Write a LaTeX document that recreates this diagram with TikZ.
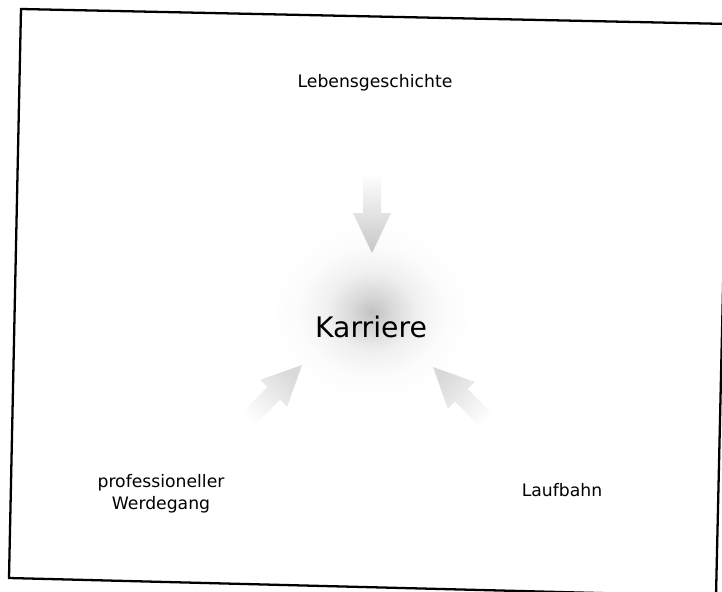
\documentclass[tikz,border=0pt]{standalone}
\usepackage{fontspec}
\setmainfont{DejaVu Sans}
\pgfdeclareradialshading{glow}{\pgfpoint{0bp}{0bp}}{%
  color(0bp)=(black!24); color(5bp)=(black!15); color(11bp)=(black!6);
  color(18bp)=(black!1.5); color(25bp)=(white); color(50bp)=(white)}
\tikzset{
  label text/.style={font=\fontsize{9.8}{12.5}\selectfont, align=center, inner sep=0pt},
  focus text/.style={font=\fontsize{16.1}{19}\selectfont, inner sep=0pt},
  flow arrow/.style={top color=white, bottom color=black!22, draw=none},
  faint arrow/.style={top color=white, bottom color=black!15, draw=none}
}
\newcommand{\blockarrow}{(0,0) -- (-19,-40) -- (-9,-40) -- (-9,-80) -- (9,-80) -- (9,-40) -- (19,-40) -- cycle}
\begin{document}
\begin{tikzpicture}[x=0.02cm, y=-0.02cm]
    \useasboundingbox (0,0) rectangle (722,591);
    \fill[white] (0,0) rectangle (722,591);

    % Frame (slightly tilted scan)
    \draw[line width=1.3pt, line join=miter] (21,9) -- (729,24) -- (716,596) -- (9,578) -- cycle;

    % Glow behind the centre word
    \shade[shading=glow] (372,312) ellipse (100 and 90);

    % Arrows pointing to the centre
    \begin{scope}[shift={(372,253)}]
        \shade[flow arrow] \blockarrow;
    \end{scope}
    \begin{scope}[shift={(302,365)}, rotate=135]
        \shade[faint arrow, shading angle=135] \blockarrow;
    \end{scope}
    \begin{scope}[shift={(433,367)}, rotate=-135]
        \shade[faint arrow, shading angle=-135] \blockarrow;
    \end{scope}

    % Texts
    \node[focus text, anchor=base] (karriere) at (371,337) {Karriere};
    \node[label text, anchor=base] (leben) at (375,88) {Lebensgeschichte};
    \node[label text, anchor=base] (laufbahn) at (562,496) {Laufbahn};
    \node[label text] (werdegang) at (161,494) {professioneller\\Werdegang};
\end{tikzpicture}
\end{document}
